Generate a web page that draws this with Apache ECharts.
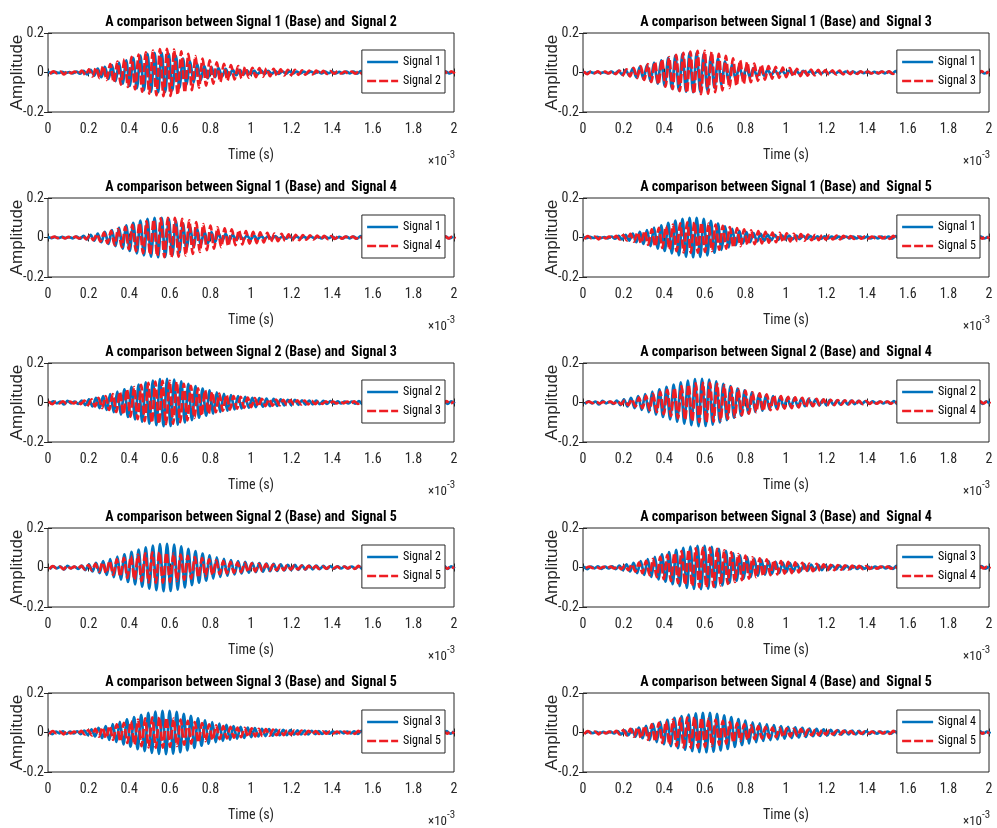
<!DOCTYPE html>
<html><head><meta charset="utf-8">
<script src="https://cdn.jsdelivr.net/npm/echarts@6/dist/echarts.min.js"></script>
<style>html,body{margin:0;padding:0;background:#fff}#c{width:997px;height:828px}</style>
</head><body><div id="c"></div>
<script>
// ---- data (time in ms; values are amplitude extrema) ----
const STEP = 0.0175;                         // ms between successive extrema
const SIGNAL_START = [0, 0.009, 0.004, 0.013, 0.006]; // ms, time of first extremum
const SIGNAL_NAMES = ['Signal 1', 'Signal 2', 'Signal 3', 'Signal 4', 'Signal 5'];
const PAIRS = [[1,2],[1,3],[1,4],[1,5],[2,3],[2,4],[2,5],[3,4],[3,5],[4,5]];

const S1 = [
0.002,-0.003,0.003,-0.002,0.003,-0.003,0.002,-0.004,0.005,-0.006,
0.008,-0.010,0.013,-0.016,0.020,-0.024,0.028,-0.033,0.038,-0.044,
0.050,-0.056,0.062,-0.068,0.074,-0.080,0.085,-0.090,0.094,-0.097,
0.099,-0.100,0.100,-0.098,0.095,-0.090,0.084,-0.077,0.070,-0.063,
0.056,-0.050,0.044,-0.039,0.034,-0.030,0.027,-0.024,0.022,-0.020,
0.018,-0.016,0.015,-0.014,0.013,-0.012,0.011,-0.010,0.010,-0.009,
0.009,-0.008,0.008,-0.007,0.007,-0.007,0.006,-0.006,0.006,-0.005,
0.005,-0.005,0.004,-0.004,0.005,-0.004,0.004,-0.004,0.004,-0.003,
0.004,-0.004,0.003,-0.004,0.004,-0.004,0.005,-0.006,0.007,-0.007,
0.006,-0.005,0.004,-0.004,0.003,-0.004,0.004,-0.003,0.004,-0.004,
0.003,-0.004,0.004,-0.003,0.004,-0.004,0.005,-0.005,0.006,-0.007,
0.007,-0.006,0.005,-0.005,0.004];
const S2 = [
-0.008,0.006,-0.004,0.005,-0.010,0.008,-0.004,0.005,-0.007,0.010,
-0.013,0.016,-0.020,0.024,-0.028,0.033,-0.038,0.043,-0.049,0.055,
-0.061,0.067,-0.073,0.079,-0.085,0.091,-0.097,0.102,-0.107,0.111,
-0.115,0.118,-0.120,0.120,-0.119,0.116,-0.112,0.107,-0.101,0.095,
-0.089,0.083,-0.077,0.071,-0.066,0.061,-0.056,0.052,-0.048,0.044,
-0.041,0.038,-0.035,0.032,-0.030,0.028,-0.026,0.024,-0.023,0.022,
-0.021,0.020,-0.019,0.018,-0.017,0.016,-0.015,0.014,-0.013,0.013,
-0.012,0.011,-0.011,0.010,-0.009,0.009,-0.008,0.008,-0.007,0.007,
-0.006,0.006,-0.005,0.005,-0.005,0.005,-0.006,0.007,-0.008,0.009,
-0.008,0.006,-0.005,0.004,-0.004,0.005,-0.004,0.004,-0.005,0.004,
-0.004,0.005,-0.004,0.005,-0.005,0.006,-0.006,0.007,-0.008,0.009,
-0.009,0.008,-0.007,0.006,-0.005];
const S3 = [
0.006,-0.008,0.005,-0.004,0.006,-0.007,0.004,-0.005,0.006,-0.008,
0.010,-0.013,0.016,-0.020,0.024,-0.028,0.033,-0.038,0.043,-0.048,
0.054,-0.060,0.066,-0.072,0.078,-0.084,0.089,-0.094,0.099,-0.103,
0.106,-0.108,0.110,-0.110,0.109,-0.107,0.104,-0.100,0.095,-0.090,
0.084,-0.078,0.072,-0.067,0.062,-0.057,0.053,-0.049,0.045,-0.042,
0.039,-0.036,0.033,-0.031,0.029,-0.027,0.025,-0.023,0.022,-0.020,
0.019,-0.018,0.017,-0.016,0.015,-0.014,0.013,-0.013,0.012,-0.011,
0.011,-0.010,0.010,-0.009,0.008,-0.008,0.007,-0.007,0.006,-0.006,
0.005,-0.005,0.005,-0.004,0.005,-0.005,0.006,-0.007,0.008,-0.008,
0.007,-0.006,0.005,-0.004,0.004,-0.005,0.004,-0.004,0.005,-0.004,
0.004,-0.005,0.004,-0.005,0.005,-0.006,0.006,-0.007,0.008,-0.009,
0.009,-0.008,0.007,-0.006,0.005];
const S4 = [
-0.003,0.004,-0.003,0.003,-0.004,0.003,-0.003,0.004,-0.005,0.007,
-0.009,0.011,-0.014,0.017,-0.021,0.025,-0.029,0.034,-0.039,0.044,
-0.049,0.054,-0.059,0.064,-0.069,0.074,-0.079,0.083,-0.087,0.091,
-0.094,0.097,-0.099,0.100,-0.100,0.099,-0.097,0.094,-0.091,0.087,
-0.083,0.078,-0.073,0.068,-0.064,0.060,-0.056,0.052,-0.049,0.046,
-0.043,0.041,-0.039,0.037,-0.035,0.033,-0.031,0.029,-0.028,0.026,
-0.025,0.023,-0.022,0.020,-0.019,0.018,-0.017,0.016,-0.015,0.014,
-0.013,0.012,-0.011,0.011,-0.010,0.009,-0.009,0.008,-0.008,0.007,
-0.007,0.006,-0.006,0.005,-0.005,0.005,-0.006,0.007,-0.007,0.006,
-0.005,0.005,-0.004,0.004,-0.004,0.005,-0.004,0.004,-0.004,0.004,
-0.004,0.004,-0.005,0.004,-0.004,0.005,-0.005,0.006,-0.006,0.007,
-0.007,0.006,-0.005,0.005,-0.004];
const S5 = [
-0.008,0.007,-0.004,0.005,-0.009,0.008,-0.005,0.004,-0.006,0.008,
-0.010,0.012,-0.015,0.018,-0.021,0.025,-0.029,0.033,-0.037,0.041,
-0.045,0.049,-0.053,0.057,-0.061,0.065,-0.069,0.072,-0.075,0.077,
-0.078,0.078,-0.077,0.075,-0.073,0.071,-0.068,0.065,-0.062,0.059,
-0.056,0.053,-0.050,0.047,-0.044,0.041,-0.038,0.036,-0.034,0.032,
-0.030,0.028,-0.026,0.025,-0.024,0.023,-0.022,0.021,-0.020,0.019,
-0.018,0.017,-0.016,0.015,-0.014,0.013,-0.013,0.012,-0.011,0.011,
-0.010,0.010,-0.009,0.008,-0.008,0.007,-0.007,0.006,-0.006,0.006,
-0.005,0.005,-0.005,0.005,-0.005,0.006,-0.007,0.008,-0.009,0.008,
-0.007,0.005,-0.004,0.004,-0.005,0.004,-0.004,0.005,-0.004,0.004,
-0.005,0.004,-0.005,0.005,-0.006,0.006,-0.007,0.008,-0.009,0.009,
-0.008,0.007,-0.006,0.005,-0.005];
const SIGNALS = [S1, S2, S3, S4, S5];

// ---- layout / style ----
const NARROW = "'Liberation Sans Narrow','Arial Narrow','Roboto Condensed','Liberation Sans',sans-serif";
const NORMAL = "'Liberation Sans',Arial,sans-serif";
const AX = '#262626';
const BLUE = '#0072BD', RED = '#EE1D23';
const COL_LEFT = [48, 583], PLOT_W = 406, PLOT_H = 79, ROW_TOP = 33, ROW_STEP = 165;

const grid = [], xAxis = [], yAxis = [], series = [], legend = [], title = [], graphic = [];
const legendText = {};

PAIRS.forEach((pair, i) => {
  const r = Math.floor(i / 2), c = i % 2;
  const left = COL_LEFT[c], top = ROW_TOP + r * ROW_STEP;
  grid.push({left, top, width: PLOT_W, height: PLOT_H, show: true, borderColor: AX, borderWidth: 1, backgroundColor: '#fff'});
  const tick = {show: true, inside: true, length: 4, lineStyle: {color: AX, width: 1}};
  xAxis.push({
    gridIndex: i, type: 'value', min: 0, max: 2, interval: 0.2,
    axisLine: {show: false}, axisTick: tick, splitLine: {show: false},
    axisLabel: {color: AX, fontSize: 14, fontFamily: NARROW, margin: 10,
      formatter: v => String(Math.round(v * 10) / 10)},
    name: 'Time (s)', nameLocation: 'middle', nameGap: 36, nameMoveOverlap: false,
    nameTextStyle: {color: AX, fontSize: 14, fontFamily: NARROW}
  });
  xAxis.push({
    gridIndex: i, type: 'value', min: 0, max: 2, interval: 0.2, position: 'top',
    axisLine: {show: false}, axisTick: tick, splitLine: {show: false}, axisLabel: {show: false}
  });
  yAxis.push({
    gridIndex: i, type: 'value', min: -0.2, max: 0.2, interval: 0.2,
    axisLine: {show: false}, axisTick: tick, splitLine: {show: false},
    axisLabel: {color: AX, fontSize: 14, fontFamily: NARROW, margin: 4,
      formatter: v => { const x = Math.round(v * 10) / 10; return x === 0 ? '0' : x.toFixed(1); }},
    name: 'Amplitude', nameLocation: 'middle', nameGap: 22, nameMoveOverlap: false,
    nameTextStyle: {color: AX, fontSize: 17, fontFamily: NORMAL}
  });
  yAxis.push({
    gridIndex: i, type: 'value', min: -0.2, max: 0.2, interval: 0.2, position: 'right',
    axisLine: {show: false}, axisTick: tick, splitLine: {show: false}, axisLabel: {show: false}
  });
  const names = [];
  pair.forEach((s, j) => {
    const id = 'p' + i + '_s' + s;
    legendText[id] = SIGNAL_NAMES[s - 1];
    names.push(id);
    const vals = SIGNALS[s - 1];
    series.push({
      name: id, type: 'line', xAxisIndex: 2 * i, yAxisIndex: 2 * i,
      data: vals.map((v, k) => [SIGNAL_START[s - 1] + k * STEP, v]),
      symbol: 'none', showSymbol: false, smooth: 0.3, clip: true,
      lineStyle: {color: j === 0 ? BLUE : RED, width: 2.7, type: j === 0 ? 'solid' : [9, 3]},
      itemStyle: {color: j === 0 ? BLUE : RED},
      emphasis: {disabled: true}, z: 2 + j
    });
  });
  legend.push({
    data: names, orient: 'vertical', right: 997 - (left + PLOT_W - 9), top: top + 17,
    backgroundColor: '#fff', borderColor: AX, borderWidth: 1, borderRadius: 0,
    padding: [6, 4, 6, 4], itemWidth: 31, itemHeight: 12, itemGap: 7,
    selectedMode: false, formatter: n => legendText[n],
    itemStyle: {opacity: 0, borderWidth: 0},
    lineStyle: {width: 2.5},
    textStyle: {color: '#000', fontSize: 12, fontFamily: NARROW}
  });
  title.push({
    text: 'A comparison between ' + SIGNAL_NAMES[pair[0] - 1] + ' (Base) and  ' + SIGNAL_NAMES[pair[1] - 1],
    left: left + PLOT_W / 2, textAlign: 'center', top: top - 18, padding: 0,
    textStyle: {color: '#000', fontSize: 14, fontWeight: 'bold', fontFamily: NARROW}
  });
  graphic.push({type: 'text', x: left + PLOT_W - 7, y: top + PLOT_H + 50,
    style: {text: '×10', fill: AX, font: '13px ' + NARROW, textAlign: 'right', textVerticalAlign: 'middle'}});
  graphic.push({type: 'text', x: left + PLOT_W - 7, y: top + PLOT_H + 43,
    style: {text: '-3', fill: AX, font: '11px ' + NARROW, textAlign: 'left', textVerticalAlign: 'middle'}});
});

const chart = echarts.init(document.getElementById('c'), null, {renderer: 'canvas'});
chart.setOption({animation: false, backgroundColor: '#fff', grid, xAxis, yAxis, series, legend, title, graphic});
</script></body></html>
